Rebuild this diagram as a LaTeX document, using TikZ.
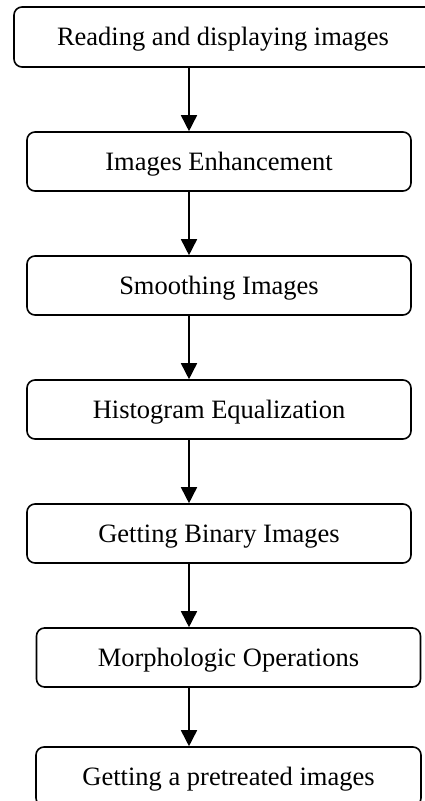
\documentclass[tikz,border=0pt]{standalone}
\usepackage{fontspec}
\setmainfont{Liberation Serif}
\usetikzlibrary{arrows.meta}
\begin{document}
\begin{tikzpicture}[x=1pt,y=-1pt,
  stepbox/.style={draw=black, line width=1.6pt, rounded corners=8pt, rectangle,
    inner sep=0pt, minimum height=59pt, text height=17pt, text depth=0pt,
    font=\fontsize{26.5}{30}\selectfont},
  flowarrow/.style={line width=1.6pt, -{Triangle[width=16pt,length=16pt]}}]
\useasboundingbox (0,0) rectangle (425,801);
\clip (0,0) rectangle (425,801);
\fill[white] (0,0) rectangle (425,801);
\node[stepbox, minimum width=432pt, minimum height=60pt] (b1) at (230,37) {\kern-14pt Reading and displaying images};
\node[stepbox, minimum width=384pt] (b2) at (219,161.5) {Images Enhancement};
\node[stepbox, minimum width=384pt] (b3) at (219,285.5) {Smoothing Images};
\node[stepbox, minimum width=384pt] (b4) at (219,409.5) {Histogram Equalization};
\node[stepbox, minimum width=384pt] (b5) at (219,533.5) {Getting Binary Images};
\node[stepbox, minimum width=384pt] (b6) at (228.5,657.5) {Morphologic Operations};
\node[stepbox, minimum width=385pt] (b7) at (228.5,776.5) {Getting a pretreated images};
\coordinate (ax) at (189,0);
\draw[flowarrow] (ax |- b1.south) -- (ax |- b2.north);
\draw[flowarrow] (ax |- b2.south) -- (ax |- b3.north);
\draw[flowarrow] (ax |- b3.south) -- (ax |- b4.north);
\draw[flowarrow] (ax |- b4.south) -- (ax |- b5.north);
\draw[flowarrow] (ax |- b5.south) -- (ax |- b6.north);
\draw[flowarrow] (ax |- b6.south) -- (ax |- b7.north);
\end{tikzpicture}
\end{document}
